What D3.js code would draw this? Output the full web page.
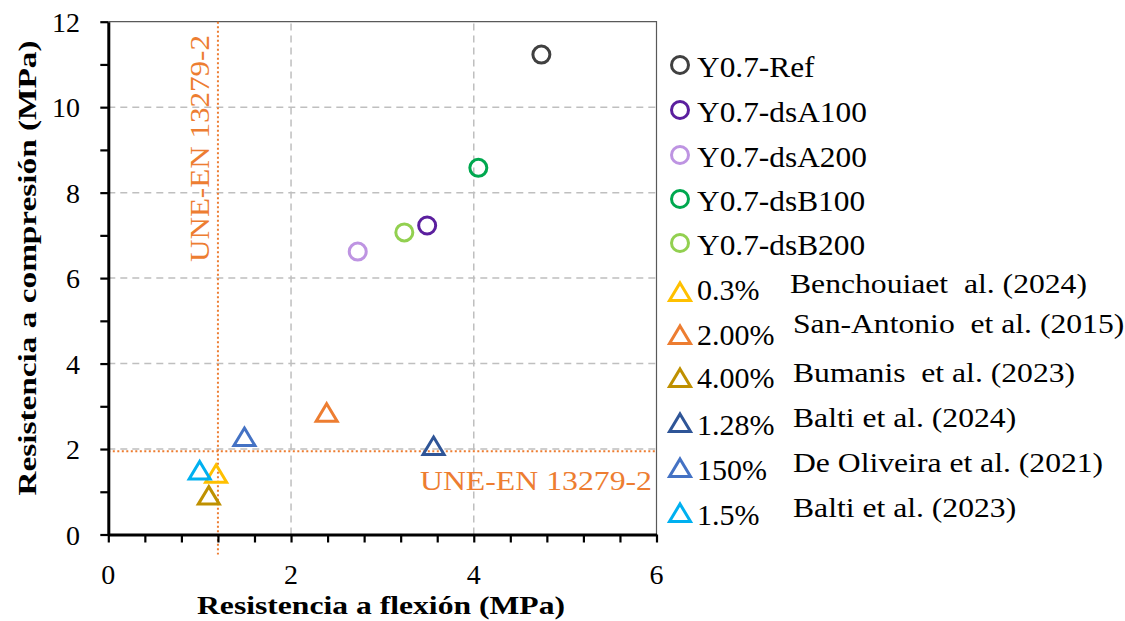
<!DOCTYPE html>
<html>
<head>
<meta charset="utf-8">
<script src="https://cdn.jsdelivr.net/npm/d3@7"></script>
<style>
  body { margin: 0; background: #fff; }
</style>
</head>
<body>
<div class="chart"></div>
<script>
// mixes of this work (circles)
var mixNames  = ["Y0.7-Ref", "Y0.7-dsA100", "Y0.7-dsA200", "Y0.7-dsB100", "Y0.7-dsB200"];
var mixFlex   = [4.74, 3.49, 2.73, 4.05, 3.24];
var mixComp   = [11.23, 7.23, 6.62, 8.58, 7.07];
var mixColors = ["#404040", "#5B1F9E", "#BE94E2", "#00A84F", "#92D050"];

// literature (triangles)
var litLabels = ["0.3%", "2.00%", "4.00%", "1.28%", "150%", "1.5%"];
var litRefs   = ["Benchouiaet  al. (2024)", "San-Antonio  et al. (2015)", "Bumanis  et al. (2023)",
                 "Balti et al. (2024)", "De Oliveira et al. (2021)", "Balti et al. (2023)"];
var litFlex   = [1.18, 2.39, 1.10, 3.56, 1.49, 1.00];
var litComp   = [1.42, 2.85, 0.91, 2.07, 2.28, 1.50];
var litColors = ["#FFC000", "#ED7D31", "#BF9000", "#2F5597", "#4472C4", "#00B0F0"];

// UNE-EN 13279-2 limits
var limitFlex = 1.2;
var limitComp = 1.95;

var xTicks = [0, 2, 4, 6];
var yTicks = [0, 2, 4, 6, 8, 10, 12];

var width = 1125, height = 621;
var orange = "#ED7D31";
var serif = "'Liberation Serif'";

var svg = d3.select(".chart").append("svg")
    .attr("width", width)
    .attr("height", height)
    .style("font-family", serif);

var x = d3.scaleLinear().domain([0, 6]).range([108.3, 656.5]);
var y = d3.scaleLinear().domain([0, 12]).range([534.5, 21.7]);

// grid
svg.append("g").selectAll("line")
    .data([2, 4])
    .enter().append("line")
    .attr("x1", function(d) { return x(d); })
    .attr("x2", function(d) { return x(d); })
    .attr("y1", y(0)).attr("y2", y(12))
    .attr("stroke", "#BFBFBF").attr("stroke-width", 1.5)
    .attr("stroke-dasharray", "7 5");
svg.append("g").selectAll("line")
    .data([2, 4, 6, 8, 10])
    .enter().append("line")
    .attr("x1", x(0)).attr("x2", x(6))
    .attr("y1", function(d) { return y(d); })
    .attr("y2", function(d) { return y(d); })
    .attr("stroke", "#BFBFBF").attr("stroke-width", 1.5)
    .attr("stroke-dasharray", "7 5");

// top & right frame
svg.append("path")
    .attr("d", "M" + x(0) + "," + y(12) + "H" + x(6) + "V" + y(0))
    .attr("fill", "none").attr("stroke", "#595959").attr("stroke-width", 1.2);

// limit lines
svg.append("line")
    .attr("x1", x(limitFlex)).attr("x2", x(limitFlex))
    .attr("y1", y(12)).attr("y2", y(0) + 20)
    .attr("stroke", orange).attr("stroke-width", 2)
    .attr("stroke-dasharray", "2 2.5");
svg.append("line")
    .attr("x1", x(0)).attr("x2", x(6))
    .attr("y1", y(limitComp)).attr("y2", y(limitComp))
    .attr("stroke", orange).attr("stroke-width", 2)
    .attr("stroke-dasharray", "2 2.5");

function txt(sel) {
    return sel.append("text").style("font-family", serif);
}
// widen text a bit like the original (Word renders it wider)
function stretch(sel, k) {
    sel.each(function() {
        var w = this.getComputedTextLength();
        d3.select(this).attr("textLength", w * k).attr("lengthAdjust", "spacingAndGlyphs");
    });
}

txt(svg)
    .attr("transform", "translate(" + (x(limitFlex) - 9) + "," + 262 + ") rotate(-90)")
    .attr("font-size", 27).attr("fill", orange)
    .attr("textLength", 227).attr("lengthAdjust", "spacingAndGlyphs")
    .text("UNE-EN 13279-2");
txt(svg)
    .attr("x", 652).attr("y", 490)
    .attr("text-anchor", "end")
    .attr("font-size", 27).attr("fill", orange)
    .attr("textLength", 232).attr("lengthAdjust", "spacingAndGlyphs")
    .text("UNE-EN 13279-2");

// axes
var minorX = d3.range(0, 6.01, 0.4);
var minorY = d3.range(0, 12.01, 1);

var xAxis = svg.append("g")
    .attr("transform", "translate(0," + y(0) + ")")
    .call(d3.axisBottom(x).tickValues(minorX).tickSize(8).tickSizeOuter(0).tickFormat(""));
var yAxis = svg.append("g")
    .attr("transform", "translate(" + x(0) + ",0)")
    .call(d3.axisLeft(y).tickValues(minorY).tickSize(8).tickSizeOuter(0).tickFormat(""));

[xAxis, yAxis].forEach(function(g) {
    g.attr("font-family", null);
    g.select(".domain").attr("stroke", "#000").attr("stroke-width", 3);
    g.selectAll(".tick line").attr("stroke", "#000").attr("stroke-width", 2.2);
});

// tick labels
svg.append("g").selectAll("text")
    .data(xTicks)
    .enter().append("text")
    .style("font-family", serif)
    .attr("x", function(d) { return x(d); })
    .attr("y", 584)
    .attr("text-anchor", "middle")
    .attr("font-size", 28)
    .text(function(d) { return d; });
svg.append("g").selectAll("text")
    .data(yTicks)
    .enter().append("text")
    .style("font-family", serif)
    .attr("x", 80)
    .attr("y", function(d) { return y(d) + 10; })
    .attr("text-anchor", "end")
    .attr("font-size", 28)
    .text(function(d) { return d; });

// axis titles
txt(svg)
    .attr("x", 381).attr("y", 614)
    .attr("text-anchor", "middle")
    .attr("font-size", 26).attr("font-weight", "bold")
    .attr("textLength", 368).attr("lengthAdjust", "spacingAndGlyphs")
    .text("Resistencia a flexión (MPa)");
txt(svg)
    .attr("transform", "translate(36," + 268 + ") rotate(-90)")
    .attr("text-anchor", "middle")
    .attr("font-size", 26).attr("font-weight", "bold")
    .attr("textLength", 455).attr("lengthAdjust", "spacingAndGlyphs")
    .text("Resistencia a compresión (MPa)");

// triangle path centred on its box
function tri(cx, cy) {
    return "M" + cx + "," + (cy - 9) + "L" + (cx + 10.5) + "," + (cy + 8.5) + "L" + (cx - 10.5) + "," + (cy + 8.5) + "Z";
}

// points
svg.append("g").selectAll("path")
    .data(litFlex)
    .enter().append("path")
    .attr("d", function(d, i) { return tri(x(d), y(litComp[i])); })
    .attr("fill", "none")
    .attr("stroke", function(d, i) { return litColors[i]; })
    .attr("stroke-width", 3);

svg.append("g").selectAll("circle")
    .data(mixFlex)
    .enter().append("circle")
    .attr("cx", function(d) { return x(d); })
    .attr("cy", function(d, i) { return y(mixComp[i]); })
    .attr("r", 8.5)
    .attr("fill", "none")
    .attr("stroke", function(d, i) { return mixColors[i]; })
    .attr("stroke-width", 3);

// legend
var mixRowY = [65, 110, 155, 199, 243];
var legC = svg.append("g").selectAll("g")
    .data(mixNames)
    .enter().append("g");
legC.append("circle")
    .attr("cx", 680).attr("cy", function(d, i) { return mixRowY[i]; })
    .attr("r", 8.5).attr("fill", "none")
    .attr("stroke", function(d, i) { return mixColors[i]; })
    .attr("stroke-width", 3);
legC.append("text")
    .style("font-family", serif)
    .attr("x", 697).attr("y", function(d, i) { return mixRowY[i] + 11.5; })
    .attr("font-size", 30)
    .text(function(d) { return d; })
    .call(stretch, 1.045);

var litRowY  = [292, 335, 378, 423, 468, 513];
var litLabY  = [300, 345, 388, 435, 480, 525];
var litRefY  = [293, 333, 382, 427, 472, 517];
var litRefX  = [790, 793, 793, 793, 793, 793];
var legT = svg.append("g").selectAll("g")
    .data(litLabels)
    .enter().append("g");
legT.append("path")
    .attr("d", function(d, i) { return tri(680, litRowY[i]); })
    .attr("fill", "none")
    .attr("stroke", function(d, i) { return litColors[i]; })
    .attr("stroke-width", 3);
legT.append("text")
    .style("font-family", serif)
    .attr("x", 697).attr("y", function(d, i) { return litLabY[i]; })
    .attr("font-size", 30)
    .text(function(d) { return d; });
legT.append("text")
    .style("font-family", serif)
    .style("white-space", "pre")
    .attr("x", function(d, i) { return litRefX[i]; })
    .attr("y", function(d, i) { return litRefY[i]; })
    .attr("font-size", 28)
    .text(function(d, i) { return litRefs[i]; })
    .call(stretch, 1.13);
</script>
</body>
</html>
